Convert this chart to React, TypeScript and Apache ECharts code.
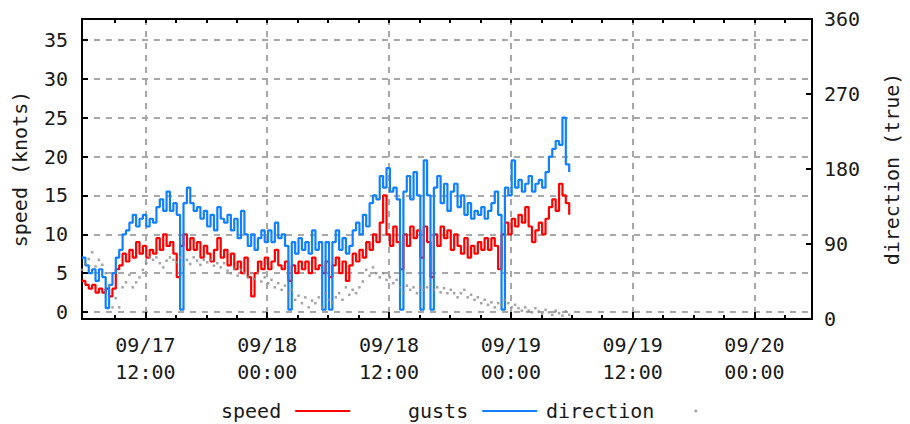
import { useEffect, useRef } from "react";
import * as echarts from "echarts";

// Time is measured in hours since 09/17 00:00; samples every 20 minutes.
const START_HOUR = 5.75;
const STEP_HOUR = 1 / 3;
const AXIS_MIN_HOUR = 5.75;
const AXIS_MAX_HOUR = 77.67;

const MAJOR_HOURS = [12, 24, 36, 48, 60, 72];
const MAJOR_LABELS = ["09/17\n12:00", "09/18\n00:00", "09/18\n12:00", "09/19\n00:00", "09/19\n12:00", "09/20\n00:00"];
const MINOR_HOURS = [9, 12, 15, 18, 21, 24, 27, 30, 33, 36, 39, 42, 45, 48, 51, 54, 57, 60, 63, 66, 69, 72, 75];
const SPEED_TICKS = [0, 5, 10, 15, 20, 25, 30, 35];
const DIR_TICKS = [0, 90, 180, 270, 360];

const speed = [
  4, 3.5, 3, 3.5, 2.5, 3, 2.5, 3, 2, 3,
  5.5, 6, 7.5, 6.5, 8, 7, 9, 7.5, 8.5, 7,
  8, 7.5, 9.5, 8, 10, 8.5, 9, 7.5, 4.5, 8.5,
  10, 8, 9.5, 8, 9, 7, 8.5, 7.5, 6.5, 8,
  9.5, 7, 8, 6, 7.5, 5.5, 6.5, 5, 7, 4.5,
  2, 5, 6.5, 5.5, 7, 5.5, 6.5, 8, 6, 5.5,
  6.5, 4, 6, 5, 6.5, 5.5, 6.5, 5, 7, 5.5,
  6, 5, 6.5, 4.5, 6, 7, 5, 6.5, 4, 6,
  7.5, 6.5, 8, 7, 9, 8, 10, 9, 11.5, 15,
  10, 8.5, 11, 9, 5.5, 10, 8.5, 11, 9.5, 10.5,
  7, 11, 9, 4.5, 10, 8.5, 11, 9.5, 10.5, 8,
  10, 8.5, 7.5, 9.5, 7, 8.5, 7.5, 9, 8, 9.5,
  8, 9.5, 8.5, 5.5, 10, 11.5, 10, 12, 11, 12.5,
  11.5, 13.5, 11, 9, 10.5, 11.5, 10, 12, 13.5, 14.5,
  13, 16.5, 15, 14, 12.5,
];

const gusts = [
  7, 6, 5, 5.5, 4, 5.5, 4.5, 0.5, 3.5, 5,
  7, 8, 10, 10.5, 11.5, 12.5, 11, 12, 12.5, 11,
  12, 11.5, 13.5, 14.5, 13, 15.5, 13, 14, 12.5, 0.3,
  14, 16, 14, 13, 13.5, 12, 13, 11, 12.5, 10.5,
  13.5, 12, 11.5, 12.5, 10.5, 12, 9.5, 13, 10, 8.5,
  10, 8, 9.5, 10.5, 9, 10.5, 9, 11.5, 9.5, 10,
  8.5, 0.3, 9, 7.5, 9.5, 8, 9, 7.5, 10.5, 8,
  9, 0.3, 9, 0.3, 9, 10.5, 8, 9.5, 7.5, 8.5,
  10.5, 11.5, 10, 12.5, 11, 14, 15, 14.5, 17.5, 16,
  18.5, 15.5, 16, 14.5, 0.3, 15.5, 17.5, 14.5, 18, 15,
  0.3, 19.5, 15, 0.3, 16, 17.5, 14, 16.5, 13, 15.5,
  16.5, 13.5, 15, 12.5, 14, 12, 13, 12.5, 13.5, 12,
  13, 14, 15.5, 12.5, 0.3, 16, 15, 19.5, 16, 17,
  15.5, 16.5, 17.5, 15.5, 16.5, 17, 16, 18, 20, 21,
  22, 21.5, 25, 19, 18,
];

const direction = [
  59, 66, 72, 80, 63, 71, 65, 55, 40, 14,
  25, 14, 38, 44, 53, 38, 44, 50, 59, 67,
  74, 71, 74, 67, 62, 70, 74, 71, 68, 74,
  65, 71, 66, 74, 70, 65, 71, 68, 71, 64,
  67, 62, 67, 58, 55, 60, 52, 59, 55, 50,
  55, 48, 55, 45, 50, 43, 47, 38, 43, 35,
  40, 31, 35, 23, 28, 19, 26, 14, 22, 19,
  26, 14, 31, 23, 20, 26, 31, 23, 38, 29,
  35, 31, 38, 45, 59, 52, 62, 55, 50, 55,
  47, 50, 43, 47, 38, 31, 40, 35, 38, 31,
  38, 35, 38, 41, 35, 38, 32, 37, 31, 35,
  31, 26, 31, 35, 26, 29, 23, 26, 19, 23,
  17, 20, 14, 19, 17, 23, 19, 14, 17, 13,
  10, 14, 10, 8, 13, 9, 6, 11, 8, 5,
  10, 7, 4, 9, 5,
];

const FONT = "'DejaVu Sans Mono', monospace";
const TEXT = "#1a1a1a";
const GRID = "#a8a8a8";

const toPairs = (arr: number[]) => arr.map((v, i) => [START_HOUR + i * STEP_HOUR, v]);

export default function App() {
  const ref = useRef<HTMLDivElement>(null);
  useEffect(() => {
    if (!ref.current) return;
    const chart = echarts.init(ref.current, null, { renderer: "svg" });
    const legendText = { fontFamily: FONT, fontSize: 20, color: TEXT, padding: [0, 9, 0, 0] };
    const legendBase = {
      top: 396, align: "right", itemWidth: 55, selectedMode: false, textStyle: legendText,
    };
    chart.setOption({
      animation: false,
      backgroundColor: "#ffffff",
      grid: {
        left: 82, right: 85, top: 19, bottom: 105,
        show: true, borderColor: "#000", borderWidth: 2, backgroundColor: "transparent",
      },
      legend: [
        { ...legendBase, left: 216, itemHeight: 2, data: [{ name: "speed", icon: "rect" }] },
        { ...legendBase, left: 403, itemHeight: 2, data: [{ name: "gusts", icon: "rect" }] },
        { ...legendBase, left: 541, itemHeight: 3, data: [{ name: "direction", icon: "circle" }] },
      ],
      xAxis: [
        {
          type: "value", position: "bottom", min: AXIS_MIN_HOUR, max: AXIS_MAX_HOUR,
          axisLine: { show: false, onZero: false },
          axisTick: { show: true, inside: true, length: 7, customValues: MAJOR_HOURS, lineStyle: { color: "#000", width: 2 } },
          axisLabel: {
            customValues: MAJOR_HOURS, margin: 12, lineHeight: 27,
            fontFamily: FONT, fontSize: 20, color: TEXT,
            formatter: (v: number) => {
              const k = MAJOR_HOURS.indexOf(Math.round(v));
              return k >= 0 ? MAJOR_LABELS[k] : "";
            },
          },
          splitLine: { show: true, lineStyle: { color: GRID, type: [6, 6], width: 2 } },
        },
        {
          type: "value", position: "bottom", min: AXIS_MIN_HOUR, max: AXIS_MAX_HOUR,
          axisLine: { show: false, onZero: false },
          axisTick: { show: true, inside: true, length: 4, customValues: MINOR_HOURS, lineStyle: { color: "#000", width: 2 } },
          axisLabel: { show: false },
          splitLine: { show: false },
        },
        {
          type: "value", position: "top", min: AXIS_MIN_HOUR, max: AXIS_MAX_HOUR,
          axisLine: { show: false, onZero: false },
          axisTick: { show: true, inside: true, length: 4, customValues: MINOR_HOURS, lineStyle: { color: "#000", width: 2 } },
          axisLabel: { show: false },
          splitLine: { show: false },
        },
      ],
      yAxis: [
        {
          type: "value", position: "left", min: -0.9, max: 37.7,
          axisLine: { show: false },
          axisTick: { show: true, inside: true, length: 6, customValues: SPEED_TICKS, lineStyle: { color: "#000", width: 2 } },
          axisLabel: { customValues: SPEED_TICKS, margin: 14, fontFamily: FONT, fontSize: 20, color: TEXT },
          splitLine: { show: true, lineStyle: { color: GRID, type: [6, 6], width: 2 } },
          name: "speed (knots)", nameLocation: "middle", nameGap: 52,
          nameTextStyle: { fontFamily: FONT, fontSize: 20, color: TEXT },
        },
        {
          type: "value", position: "right", min: 0, max: 360,
          axisLine: { show: false },
          axisTick: { show: true, inside: true, length: 6, customValues: DIR_TICKS, lineStyle: { color: "#000", width: 2 } },
          axisLabel: { customValues: DIR_TICKS, margin: 12, fontFamily: FONT, fontSize: 20, color: TEXT },
          splitLine: { show: false },
          name: "direction (true)", nameLocation: "middle", nameGap: 70,
          nameTextStyle: { fontFamily: FONT, fontSize: 20, color: TEXT },
        },
      ],
      series: [
        {
          name: "speed", type: "line", step: "end", xAxisIndex: 0, yAxisIndex: 0,
          data: toPairs(speed), symbol: "none", z: 3,
          lineStyle: { color: "#ff0000", width: 2.2 }, itemStyle: { color: "#ff0000" },
        },
        {
          name: "gusts", type: "line", step: "end", xAxisIndex: 0, yAxisIndex: 0,
          data: toPairs(gusts), symbol: "none", z: 4,
          lineStyle: { color: "#1080ff", width: 2.2 }, itemStyle: { color: "#1080ff" },
        },
        {
          name: "direction", type: "scatter", xAxisIndex: 0, yAxisIndex: 1,
          data: toPairs(direction), symbol: "rect", symbolSize: 2.5, z: 5,
          itemStyle: { color: "#8c8c8c" },
        },
      ],
    });
    return () => chart.dispose();
  }, []);
  return (
    <div
      ref={ref}
      style={{ position: "fixed", left: 0, top: 0, width: 910, height: 424, background: "#fff" }}
    />
  );
}
